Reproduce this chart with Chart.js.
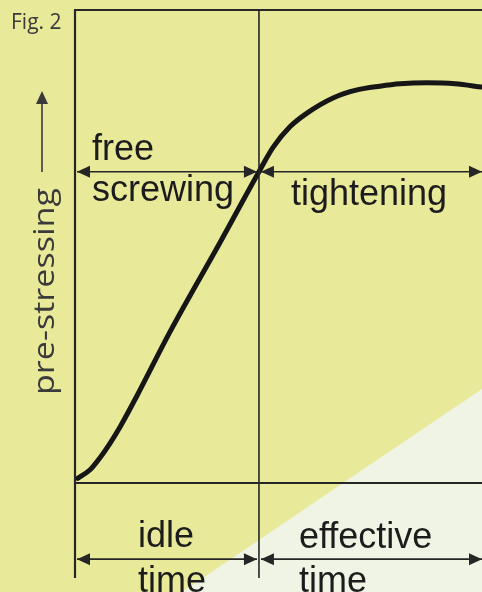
<!DOCTYPE html>
<html>
<head>
<meta charset="utf-8">
<script src="https://cdn.jsdelivr.net/npm/chart.js@4/dist/chart.umd.min.js"></script>
<style>
  html, body { margin: 0; padding: 0; background: #e8ea9a; }
  #wrap { width: 482px; height: 592px; }
</style>
</head>
<body>
<div id="wrap"><canvas id="fig" width="482" height="592"></canvas></div>
<script>
// curve (time 0..100, pre-stressing 0..100)
const timeVals = [0.7, 3.7, 6.1, 8.6, 11.1, 15.2, 23.3, 35.6, 45.2, 48.7, 52.8, 57.0, 63.4, 69.3, 74.9, 79.9, 86.5, 93.4, 100];
const stressVals = [1.0, 2.8, 5.3, 8.4, 11.9, 18.4, 31.9, 50.8, 65.8, 71.0, 75.3, 78.2, 81.4, 83.1, 83.9, 84.4, 84.6, 84.4, 83.7];

// phases
const phaseBounds = [0, 45.2, 100];
const phaseLabels = [['free', 'screwing'], ['tightening']];
const timeLabels = [['idle', 'time'], ['effective', 'time']];
const yAxisTitle = 'pre-stressing';
const figLabel = 'Fig. 2';

const phaseArrowY = 65.8;   // upper dimension line
const timeArrowY = -16.1;   // lower dimension line
const lineBottomY = -20.1;  // where the vertical lines stop

const ink = '#262626';

function arrowHead(ctx, x, y, dir, len, half) {
  ctx.beginPath();
  ctx.moveTo(x, y);
  ctx.lineTo(x - dir * len, y - half);
  ctx.lineTo(x - dir * len, y + half);
  ctx.closePath();
  ctx.fill();
}

const background = {
  id: 'background',
  beforeDraw(chart) {
    const ctx = chart.ctx;
    const w = chart.width, h = chart.height;
    ctx.save();
    ctx.fillStyle = '#e8ea9a';
    ctx.fillRect(0, 0, w, h);
    ctx.fillStyle = '#eff4e5';
    ctx.beginPath();
    ctx.moveTo(182, h);
    ctx.lineTo(w, 389);
    ctx.lineTo(w, h);
    ctx.closePath();
    ctx.fill();
    ctx.restore();
  }
};

const frame = {
  id: 'frame',
  afterDatasetsDraw(chart) {
    const ctx = chart.ctx;
    const xs = chart.scales.x, ys = chart.scales.y;
    const a = chart.chartArea;
    const xL = xs.getPixelForValue(phaseBounds[0]);
    const xM = xs.getPixelForValue(phaseBounds[1]);
    const xR = xs.getPixelForValue(phaseBounds[2]);
    const y0 = ys.getPixelForValue(0);
    const yLow = ys.getPixelForValue(lineBottomY);
    const yP = ys.getPixelForValue(phaseArrowY);
    const yT = ys.getPixelForValue(timeArrowY);

    ctx.save();
    ctx.strokeStyle = ink;
    ctx.fillStyle = ink;

    // frame: left, top, baseline
    ctx.lineWidth = 2.2;
    ctx.beginPath();
    ctx.moveTo(xL, yLow); ctx.lineTo(xL, a.top); ctx.lineTo(a.right + 2, a.top);
    ctx.moveTo(xL, y0); ctx.lineTo(a.right + 2, y0);
    ctx.stroke();

    // phase boundary
    ctx.lineWidth = 1.6;
    ctx.beginPath();
    ctx.moveTo(xM, a.top); ctx.lineTo(xM, yLow);
    ctx.stroke();

    // dimension lines with arrows
    [yP, yT].forEach(y => {
      ctx.beginPath();
      ctx.moveTo(xL + 2, y); ctx.lineTo(xM - 2, y);
      ctx.moveTo(xM + 2, y); ctx.lineTo(xR, y);
      ctx.stroke();
      arrowHead(ctx, xL + 2, y, -1, 13, 6);
      arrowHead(ctx, xM - 2, y, 1, 13, 6);
      arrowHead(ctx, xM + 2, y, -1, 13, 6);
      arrowHead(ctx, xR, y, 1, 13, 6);
    });

    // labels
    ctx.font = '36px "Liberation Sans", Arial, sans-serif';
    ctx.textBaseline = 'alphabetic';
    ctx.textAlign = 'left';
    ctx.fillStyle = '#1c1c1c';
    ctx.fillText(phaseLabels[0][0], xL + 17, yP - 12);
    ctx.fillText(phaseLabels[0][1], xL + 17, yP + 29);
    ctx.fillText(phaseLabels[1][0], xM + 32, yP + 33);

    ctx.textAlign = 'center';
    ctx.fillText(timeLabels[0][0], xL + 91, yT - 12);
    ctx.fillText(timeLabels[0][1], xL + 97, yT + 33);
    ctx.textAlign = 'left';
    ctx.fillText(timeLabels[1][0], xM + 40, yT - 11);
    ctx.fillText(timeLabels[1][1], xM + 40, yT + 33);

    // y axis title with arrow, stretched to the span it has in the figure
    ctx.fillStyle = '#3a3a3a';
    ctx.strokeStyle = '#3a3a3a';
    ctx.save();
    ctx.font = '29px "Open Sans", "Noto Sans", sans-serif';
    const tw = ctx.measureText(yAxisTitle).width;
    ctx.translate(54, 395);
    ctx.rotate(-Math.PI / 2);
    ctx.scale(207 / tw, 1);
    ctx.textAlign = 'left';
    ctx.fillText(yAxisTitle, 0, 0);
    ctx.restore();
    ctx.lineWidth = 1.6;
    ctx.beginPath();
    ctx.moveTo(42, 172); ctx.lineTo(42, 100);
    ctx.stroke();
    ctx.beginPath();
    ctx.moveTo(42, 91); ctx.lineTo(36, 104); ctx.lineTo(48, 104);
    ctx.closePath();
    ctx.fill();

    // figure number
    ctx.font = '21px "Open Sans", "Noto Sans", sans-serif';
    ctx.fillStyle = '#3a3a3a';
    ctx.fillText(figLabel, 11, 29);
    ctx.restore();
  }
};

new Chart(document.getElementById('fig'), {
  type: 'line',
  data: {
    labels: timeVals,
    datasets: [{
      data: timeVals.map((t, i) => ({ x: t, y: stressVals[i] })),
      borderColor: '#161616',
      borderWidth: 5,
      borderCapStyle: 'round',
      pointRadius: 0,
      cubicInterpolationMode: 'monotone',
      fill: false
    }]
  },
  options: {
    responsive: false,
    animation: false,
    layout: { padding: { left: 75, top: 10, right: 0, bottom: 109 } },
    scales: {
      x: { type: 'linear', min: 0, max: 100, display: false },
      y: { type: 'linear', min: 0, max: 100, display: false }
    },
    plugins: {
      legend: { display: false },
      tooltip: { enabled: false }
    }
  },
  plugins: [background, frame]
});
</script>
</body>
</html>
